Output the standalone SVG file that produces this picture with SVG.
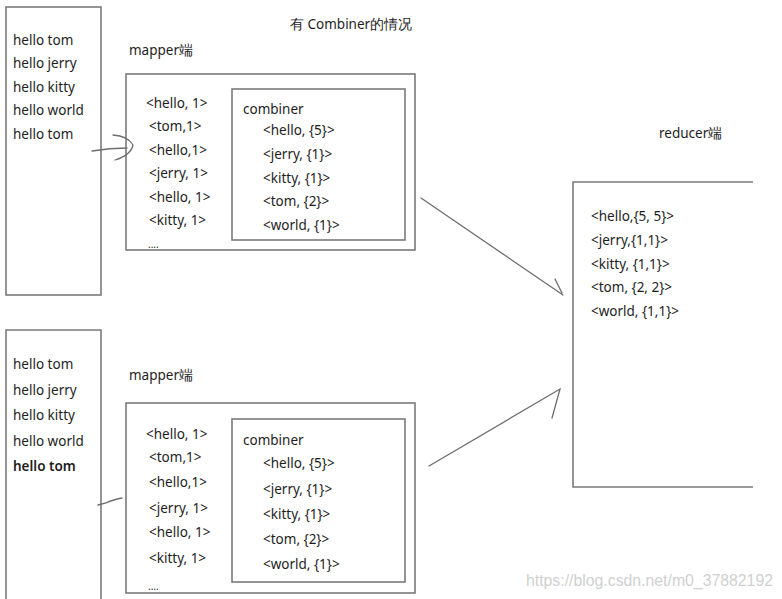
<svg xmlns="http://www.w3.org/2000/svg" width="782" height="599" viewBox="0 0 782 599">
<style>
.box{fill:none;stroke:#7a7a7a;stroke-width:1.6}
.ln{fill:none;stroke:#6e6e6e;stroke-width:1.3;stroke-linecap:round}
text{font-family:"Noto Sans","Open Sans",sans-serif;font-size:13.5px;fill:#1e1e1e}
.wm{fill:#d0d0d0;font-family:"Liberation Sans",Arial,sans-serif;font-size:16px}
</style>
<rect width="782" height="599" fill="#ffffff"/>
<text x="290" y="29">有 Combiner的情况</text>
<g id="input1">
<rect class="box" x="6" y="7" width="95" height="288"/>
<text x="13" y="45">hello tom</text>
<text x="13" y="68">hello jerry</text>
<text x="13" y="92">hello kitty</text>
<text x="13" y="115">hello world</text>
<text x="13" y="139">hello tom</text>
</g>
<g id="mapper1">
<text x="129" y="55">mapper端</text>
<rect class="box" x="126" y="74" width="289" height="176"/>
<text x="146" y="108">&lt;hello, 1&gt;</text>
<text x="149" y="131">&lt;tom,1&gt;</text>
<text x="149" y="155">&lt;hello,1&gt;</text>
<text x="149" y="178">&lt;jerry, 1&gt;</text>
<text x="149" y="202">&lt;hello, 1&gt;</text>
<text x="149" y="225">&lt;kitty, 1&gt;</text>
<text x="148" y="248" style="font-size:10px">....</text>
</g>
<g id="combiner1">
<rect class="box" x="232" y="89" width="173" height="151"/>
<text x="243" y="114">combiner</text>
<text x="263" y="135">&lt;hello, {5}&gt;</text>
<text x="263" y="159">&lt;jerry, {1}&gt;</text>
<text x="263" y="183">&lt;kitty, {1}&gt;</text>
<text x="263" y="206">&lt;tom, {2}&gt;</text>
<text x="263" y="230">&lt;world, {1}&gt;</text>
</g>
<g id="input2">
<path class="box" d="M6,599 V330 H101 V599"/>
<text x="13" y="369">hello tom</text>
<text x="13" y="395">hello jerry</text>
<text x="13" y="420">hello kitty</text>
<text x="13" y="446">hello world</text>
<text x="13" y="471" style="font-weight:600">hello tom</text>
</g>
<g id="mapper2">
<text x="129" y="380">mapper端</text>
<rect class="box" x="126" y="403" width="289" height="190"/>
<text x="146" y="439">&lt;hello, 1&gt;</text>
<text x="149" y="462">&lt;tom,1&gt;</text>
<text x="149" y="487">&lt;hello,1&gt;</text>
<text x="149" y="513">&lt;jerry, 1&gt;</text>
<text x="149" y="537">&lt;hello, 1&gt;</text>
<text x="149" y="563">&lt;kitty, 1&gt;</text>
<text x="148" y="590" style="font-size:10px">....</text>
</g>
<g id="combiner2">
<rect class="box" x="232" y="419" width="173" height="163"/>
<text x="243" y="445">combiner</text>
<text x="263" y="468">&lt;hello, {5}&gt;</text>
<text x="263" y="494">&lt;jerry, {1}&gt;</text>
<text x="263" y="519">&lt;kitty, {1}&gt;</text>
<text x="263" y="544">&lt;tom, {2}&gt;</text>
<text x="263" y="569">&lt;world, {1}&gt;</text>
</g>
<g id="reducer">
<text x="659" y="138">reducer端</text>
<path class="box" d="M753,182 H573 V487 H753"/>
<text x="591" y="221">&lt;hello,{5, 5}&gt;</text>
<text x="591" y="245">&lt;jerry,{1,1}&gt;</text>
<text x="591" y="269">&lt;kitty, {1,1}&gt;</text>
<text x="591" y="292">&lt;tom, {2, 2}&gt;</text>
<text x="591" y="316">&lt;world, {1,1}&gt;</text>
</g>
<g id="connectors">
<path class="ln" d="M92,151 Q110,148 127,148"/>
<path class="ln" d="M113,135 Q128,136 133,145 Q131,155 115,160"/>
<path class="ln" d="M98,505 L106,503 Q112,500 122,498"/>
<path class="ln" d="M421,198 L563,295 M555,279 L562,293"/>
<path class="ln" d="M429,466 L560,389 L552,418"/>
</g>
<text class="wm" x="526" y="586" textLength="247" lengthAdjust="spacingAndGlyphs">https://blog.csdn.net/m0_37882192</text>
</svg>
